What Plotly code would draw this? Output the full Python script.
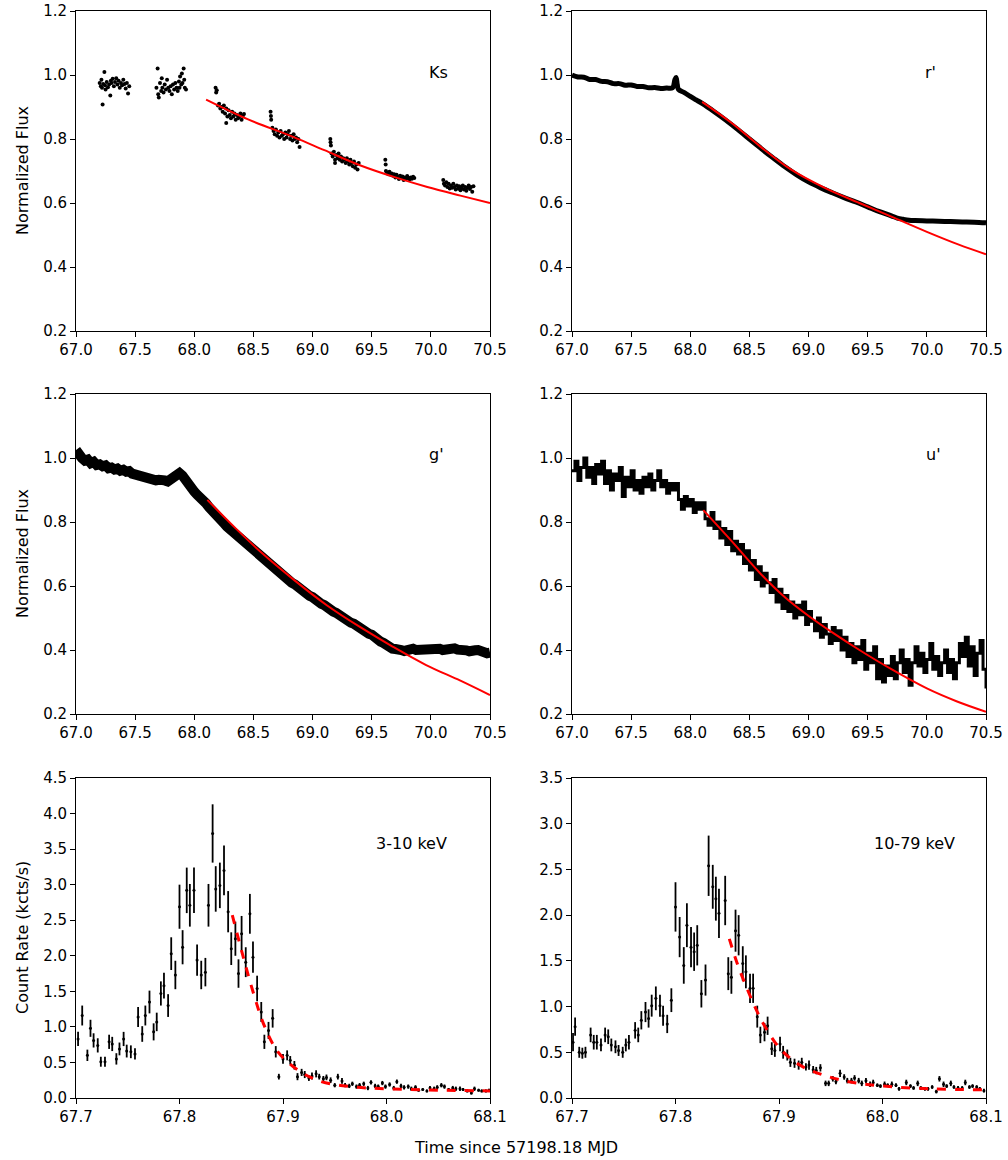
import plotly.graph_objects as go
from plotly.subplots import make_subplots

# ----- Ks band: scattered photometry in seven visits -----
ks_time = [67.20, 67.21, 67.215, 67.22, 67.225, 67.23, 67.24, 67.245, 67.25, 67.26, 67.27, 67.28, 67.29, 67.295, 67.30,
           67.31, 67.32, 67.33, 67.34, 67.35, 67.36, 67.37, 67.38, 67.39, 67.40, 67.41, 67.42, 67.43, 67.44, 67.45,
           67.68, 67.69, 67.695, 67.70, 67.71, 67.72, 67.725, 67.73, 67.74, 67.75, 67.76, 67.77, 67.78, 67.79, 67.80,
           67.81, 67.82, 67.83, 67.84, 67.85, 67.86, 67.87, 67.875, 67.88, 67.89, 67.895, 67.90, 67.91, 67.915, 67.92, 67.93,
           68.18, 68.185, 68.19, 68.20, 68.21, 68.22, 68.23, 68.24, 68.25, 68.26, 68.27, 68.28, 68.29, 68.30, 68.31,
           68.32, 68.33, 68.34, 68.35, 68.36, 68.37, 68.38, 68.39, 68.40, 68.41, 68.42, 68.27,
           68.645, 68.648, 68.65, 68.66, 68.67, 68.68, 68.69, 68.70, 68.71, 68.72, 68.73, 68.74, 68.75, 68.76, 68.77,
           68.78, 68.79, 68.80, 68.81, 68.82, 68.83, 68.84, 68.85, 68.86, 68.87, 68.88, 68.89,
           69.15, 69.152, 69.155, 69.16, 69.17, 69.18, 69.19, 69.20, 69.21, 69.22, 69.23, 69.24, 69.25, 69.26, 69.27,
           69.28, 69.29, 69.30, 69.31, 69.32, 69.33, 69.34, 69.35, 69.36, 69.37, 69.38, 69.39, 69.19,
           69.615, 69.618, 69.62, 69.63, 69.64, 69.65, 69.66, 69.67, 69.68, 69.69, 69.70, 69.71, 69.72, 69.73, 69.74,
           69.75, 69.76, 69.77, 69.78, 69.79, 69.80, 69.81, 69.82, 69.83, 69.84, 69.85, 69.86,
           70.105, 70.11, 70.12, 70.13, 70.14, 70.15, 70.16, 70.17, 70.18, 70.19, 70.20, 70.21, 70.22, 70.23, 70.24,
           70.25, 70.26, 70.27, 70.28, 70.29, 70.30, 70.31, 70.32, 70.33, 70.34, 70.35, 70.36]
ks_flux = [0.975, 0.965, 0.985, 0.960, 0.908, 0.972, 1.009, 0.968, 0.955, 0.978, 0.962, 0.970, 0.936, 0.982, 0.975,
           0.988, 0.965, 0.978, 0.990, 0.970, 0.982, 0.960, 0.975, 0.968, 0.985, 0.972, 0.958, 0.975, 0.942, 0.965,
           0.960, 1.020, 0.940, 0.930, 0.975, 0.950, 0.990, 0.960, 0.945, 0.970, 0.955, 0.985, 0.960, 0.950, 0.965,
           0.940, 0.970, 0.955, 0.975, 0.960, 0.950, 0.980, 0.960, 0.995, 0.970, 1.005, 0.975, 1.020, 0.985, 0.960, 0.955,
           0.960, 0.945, 0.952, 0.905, 0.910, 0.895, 0.900, 0.885, 0.905, 0.880, 0.895, 0.870, 0.890, 0.875, 0.865,
           0.885, 0.870, 0.880, 0.860, 0.875, 0.865, 0.870, 0.880, 0.860, 0.872, 0.878, 0.850,
           0.885, 0.872, 0.860, 0.835, 0.825, 0.815, 0.830, 0.810, 0.820, 0.805, 0.825, 0.810, 0.815, 0.800, 0.820,
           0.805, 0.815, 0.825, 0.800, 0.810, 0.795, 0.815, 0.800, 0.805, 0.790, 0.800, 0.775,
           0.800, 0.790, 0.780, 0.755, 0.745, 0.760, 0.735, 0.750, 0.740, 0.755, 0.735, 0.745, 0.730, 0.740, 0.735,
           0.725, 0.740, 0.730, 0.720, 0.735, 0.725, 0.715, 0.730, 0.710, 0.720, 0.705, 0.725, 0.725,
           0.735, 0.720, 0.700, 0.695, 0.690, 0.698, 0.688, 0.692, 0.685, 0.690, 0.680, 0.688, 0.682, 0.675, 0.685,
           0.678, 0.683, 0.672, 0.680, 0.676, 0.684, 0.678, 0.674, 0.680, 0.676, 0.682, 0.678,
           0.672, 0.660, 0.655, 0.665, 0.650, 0.660, 0.645, 0.655, 0.648, 0.660, 0.650, 0.642, 0.655, 0.645, 0.652,
           0.640, 0.648, 0.655, 0.642, 0.650, 0.638, 0.648, 0.655, 0.644, 0.650, 0.635, 0.652]
ks_fit_time = [68.10, 68.45, 68.84, 69.10, 69.40, 69.70, 69.97, 70.25, 70.50]
ks_fit_flux = [0.923, 0.862, 0.806, 0.765, 0.718, 0.680, 0.650, 0.623, 0.600]

# ----- r' band -----
r_time = [67.00, 67.05, 67.10, 67.15, 67.20, 67.25, 67.30, 67.35, 67.40, 67.45, 67.50, 67.55, 67.60, 67.65,
          67.70, 67.75, 67.80, 67.85, 67.87, 67.88, 67.89, 67.90, 67.95, 68.00, 68.05, 68.10, 68.20, 68.30,
          68.40, 68.50, 68.60, 68.70, 68.80, 68.90, 69.00, 69.10, 69.20, 69.30, 69.40, 69.50, 69.60, 69.70,
          69.75, 69.80, 69.85, 69.90, 70.00, 70.10, 70.20, 70.30, 70.40, 70.50]
r_flux = [1.000, 0.994, 0.993, 0.986, 0.986, 0.980, 0.979, 0.973, 0.973, 0.968, 0.969, 0.964, 0.964, 0.960,
          0.961, 0.958, 0.959, 0.960, 0.985, 0.992, 0.970, 0.955, 0.945, 0.933, 0.922, 0.911, 0.886, 0.859,
          0.830, 0.800, 0.770, 0.741, 0.713, 0.688, 0.666, 0.648, 0.632, 0.617, 0.603, 0.588, 0.573, 0.560,
          0.553, 0.549, 0.546, 0.545, 0.544, 0.543, 0.542, 0.541, 0.540, 0.538]
r_fit_time = [68.10, 68.35, 68.58, 68.85, 69.15, 69.45, 69.71, 70.00, 70.27, 70.50]
r_fit_flux = [0.916, 0.850, 0.780, 0.705, 0.645, 0.597, 0.556, 0.510, 0.470, 0.440]

# ----- g' band -----
g_time = [67.000, 67.025, 67.050, 67.075, 67.100, 67.125, 67.150, 67.175, 67.200, 67.225,
          67.250, 67.275, 67.300, 67.325, 67.350, 67.375, 67.400, 67.425, 67.450, 67.475,
          67.500, 67.525, 67.550, 67.575, 67.600, 67.625, 67.650, 67.675, 67.700, 67.725,
          67.750, 67.775, 67.800, 67.825, 67.850, 67.875, 67.900, 67.925, 67.950, 67.975,
          68.000, 68.025, 68.050, 68.075, 68.100, 68.125, 68.150, 68.175, 68.200, 68.225,
          68.250, 68.275, 68.300, 68.325, 68.350, 68.375, 68.400, 68.425, 68.450, 68.475,
          68.500, 68.525, 68.550, 68.575, 68.600, 68.625, 68.650, 68.675, 68.700, 68.725,
          68.750, 68.775, 68.800, 68.825, 68.850, 68.875, 68.900, 68.925, 68.950, 68.975,
          69.000, 69.025, 69.050, 69.075, 69.100, 69.125, 69.150, 69.175, 69.200, 69.225,
          69.250, 69.275, 69.300, 69.325, 69.350, 69.375, 69.400, 69.425, 69.450, 69.475,
          69.500, 69.525, 69.550, 69.575, 69.600, 69.625, 69.650, 69.675, 69.700, 69.725,
          69.750, 69.775, 69.800, 69.825, 69.850, 69.875, 69.900, 69.925, 69.950, 69.975,
          70.000, 70.025, 70.050, 70.075, 70.100, 70.125, 70.150, 70.175, 70.200, 70.225,
          70.250, 70.275, 70.300, 70.325, 70.350, 70.375, 70.400, 70.425, 70.450, 70.475,
          70.500]
g_flux = [1.025, 1.005, 1.000, 0.992, 0.995, 0.984, 0.988, 0.978, 0.980, 0.974,
          0.977, 0.968, 0.970, 0.964, 0.967, 0.960, 0.963, 0.957, 0.959, 0.951,
          0.948, 0.944, 0.946, 0.939, 0.940, 0.934, 0.936, 0.930, 0.932, 0.927,
          0.930, 0.927, 0.933, 0.940, 0.948, 0.953, 0.945, 0.930, 0.918, 0.905,
          0.895, 0.885, 0.878, 0.866, 0.858, 0.846, 0.838, 0.826, 0.817, 0.805,
          0.797, 0.786, 0.778, 0.766, 0.759, 0.748, 0.742, 0.730, 0.725, 0.714,
          0.708, 0.698, 0.692, 0.682, 0.678, 0.668, 0.662, 0.652, 0.648, 0.638,
          0.632, 0.624, 0.618, 0.610, 0.605, 0.596, 0.592, 0.582, 0.578, 0.569,
          0.565, 0.556, 0.552, 0.544, 0.540, 0.531, 0.528, 0.520, 0.516, 0.508,
          0.505, 0.497, 0.494, 0.485, 0.482, 0.474, 0.472, 0.462, 0.460, 0.451,
          0.448, 0.438, 0.435, 0.426, 0.422, 0.414, 0.412, 0.404, 0.403, 0.398,
          0.400, 0.397, 0.401, 0.399, 0.404, 0.400, 0.401, 0.398, 0.403, 0.401,
          0.404, 0.399, 0.400, 0.404, 0.400, 0.402, 0.398, 0.402, 0.405, 0.401,
          0.402, 0.398, 0.399, 0.396, 0.402, 0.399, 0.400, 0.395, 0.396, 0.390,
          0.392]
g_fit_time = [68.11, 68.35, 68.56, 68.84, 69.12, 69.40, 69.68, 69.96, 70.25, 70.50]
g_fit_flux = [0.869, 0.780, 0.707, 0.620, 0.540, 0.472, 0.410, 0.353, 0.304, 0.259]

# ----- u' band -----
u_time = [67.000, 67.025, 67.050, 67.075, 67.100, 67.125, 67.150, 67.175, 67.200, 67.225,
          67.250, 67.275, 67.300, 67.325, 67.350, 67.375, 67.400, 67.425, 67.450, 67.475,
          67.500, 67.525, 67.550, 67.575, 67.600, 67.625, 67.650, 67.675, 67.700, 67.725,
          67.750, 67.775, 67.800, 67.825, 67.850, 67.875, 67.900, 67.925, 67.950, 67.975,
          68.000, 68.025, 68.050, 68.075, 68.100, 68.125, 68.150, 68.175, 68.200, 68.225,
          68.250, 68.275, 68.300, 68.325, 68.350, 68.375, 68.400, 68.425, 68.450, 68.475,
          68.500, 68.525, 68.550, 68.575, 68.600, 68.625, 68.650, 68.675, 68.700, 68.725,
          68.750, 68.775, 68.800, 68.825, 68.850, 68.875, 68.900, 68.925, 68.950, 68.975,
          69.000, 69.025, 69.050, 69.075, 69.100, 69.125, 69.150, 69.175, 69.200, 69.225,
          69.250, 69.275, 69.300, 69.325, 69.350, 69.375, 69.400, 69.425, 69.450, 69.475,
          69.500, 69.525, 69.550, 69.575, 69.600, 69.625, 69.650, 69.675, 69.700, 69.725,
          69.750, 69.775, 69.800, 69.825, 69.850, 69.875, 69.900, 69.925, 69.950, 69.975,
          70.000, 70.025, 70.050, 70.075, 70.100, 70.125, 70.150, 70.175, 70.200, 70.225,
          70.250, 70.275, 70.300, 70.325, 70.350, 70.375, 70.400, 70.425, 70.450, 70.475,
          70.500]
u_flux = [0.96, 0.99, 0.93, 0.97, 1.00, 0.94, 0.97, 0.92, 0.98, 0.95,
          0.99, 0.92, 0.96, 0.90, 0.95, 0.93, 0.97, 0.88, 0.94, 0.91,
          0.96, 0.90, 0.93, 0.89, 0.94, 0.91, 0.95, 0.90, 0.93, 0.96,
          0.91, 0.93, 0.89, 0.92, 0.90, 0.92, 0.87, 0.84, 0.88, 0.85,
          0.87, 0.83, 0.86, 0.84, 0.86, 0.81, 0.79, 0.83, 0.78, 0.80,
          0.75, 0.78, 0.73, 0.77, 0.71, 0.74, 0.70, 0.73, 0.67, 0.71,
          0.65, 0.68, 0.62, 0.66, 0.60, 0.64, 0.61, 0.58, 0.62, 0.55,
          0.59, 0.53, 0.57, 0.52, 0.55, 0.50, 0.54, 0.51, 0.55, 0.48,
          0.52, 0.49, 0.46, 0.50, 0.44, 0.48, 0.45, 0.42, 0.47, 0.43,
          0.46, 0.40, 0.44, 0.38, 0.42, 0.36, 0.41, 0.37, 0.43, 0.34,
          0.39, 0.36, 0.41, 0.31, 0.37, 0.30, 0.35, 0.32, 0.38, 0.31,
          0.36, 0.40, 0.33, 0.37, 0.29, 0.36, 0.41, 0.35, 0.39, 0.33,
          0.37, 0.42, 0.34, 0.38, 0.32, 0.36, 0.40, 0.33, 0.37, 0.31,
          0.36, 0.42, 0.38, 0.44, 0.35, 0.41, 0.32, 0.39, 0.43, 0.34,
          0.28]
u_fit_time = [68.11, 68.35, 68.59, 68.80, 69.01, 69.20, 69.43, 69.70, 70.00, 70.25, 70.50]
u_fit_flux = [0.837, 0.740, 0.640, 0.565, 0.504, 0.455, 0.400, 0.340, 0.280, 0.240, 0.207]

# ----- NuSTAR 3-10 keV -----
soft_time = [67.702, 67.706, 67.711, 67.714, 67.717, 67.721, 67.724, 67.728, 67.732, 67.735,
             67.739, 67.742, 67.746, 67.749, 67.753, 67.757, 67.760, 67.764, 67.767, 67.771,
             67.775, 67.778, 67.782, 67.785, 67.789, 67.792, 67.796, 67.800, 67.803, 67.807,
             67.810, 67.814, 67.817, 67.821, 67.825, 67.828, 67.832, 67.835, 67.839, 67.843,
             67.847, 67.850, 67.854, 67.857, 67.860, 67.864, 67.868, 67.871, 67.875, 67.879,
             67.882, 67.886, 67.890, 67.893, 67.896, 67.900, 67.904, 67.907, 67.911,
             67.914, 67.918, 67.921, 67.925, 67.928, 67.932, 67.935, 67.939, 67.942, 67.946,
             67.950, 67.953, 67.957, 67.960, 67.964, 67.967, 67.971, 67.974, 67.978, 67.982,
             67.985, 67.989, 67.992, 67.996, 67.999, 68.003, 68.007, 68.010, 68.014, 68.017,
             68.021, 68.024, 68.028, 68.031, 68.035, 68.039, 68.042, 68.046, 68.049, 68.053,
             68.056, 68.060, 68.064, 68.067, 68.071, 68.074, 68.078, 68.082, 68.085, 68.089,
             68.092, 68.096, 68.099]
soft_rate = [0.83, 1.16, 0.60, 0.98, 0.81, 0.74, 0.51, 0.51, 0.79, 0.76,
             0.55, 0.69, 0.83, 0.66, 0.65, 0.62, 1.14, 0.90, 1.16, 1.35,
             0.93, 1.07, 1.47, 1.58, 1.30, 2.03, 1.73, 2.69, 2.12, 2.92,
             2.71, 2.92, 1.94, 1.73, 1.77, 2.71, 3.72, 2.94, 2.99, 3.20,
             2.62, 2.10, 2.24, 1.75, 2.31, 1.91, 2.59, 1.98, 1.54, 1.21,
             0.79, 0.95, 1.12, 0.65, 0.30, 0.55, 0.60, 0.53, 0.46,
             0.30, 0.36, 0.33, 0.28, 0.31, 0.34, 0.30, 0.27, 0.29, 0.25,
             0.18, 0.30, 0.24, 0.18, 0.17, 0.20, 0.16, 0.18, 0.20, 0.14,
             0.22, 0.17, 0.16, 0.21, 0.16, 0.19, 0.14, 0.23, 0.17, 0.15,
             0.16, 0.13, 0.15, 0.11, 0.12, 0.10, 0.14, 0.13, 0.15, 0.18,
             0.16, 0.12, 0.14, 0.13, 0.13, 0.12, 0.10, 0.07, 0.13, 0.11,
             0.10, 0.10, 0.11]
soft_err = [0.10, 0.14, 0.08, 0.12, 0.10, 0.10, 0.07, 0.07, 0.10, 0.10,
            0.08, 0.09, 0.10, 0.09, 0.09, 0.08, 0.14, 0.11, 0.14, 0.16,
            0.12, 0.13, 0.17, 0.18, 0.16, 0.23, 0.20, 0.31, 0.24, 0.32,
            0.30, 0.32, 0.22, 0.20, 0.20, 0.30, 0.41, 0.32, 0.32, 0.35,
            0.29, 0.23, 0.24, 0.20, 0.25, 0.21, 0.28, 0.22, 0.18, 0.14,
            0.10, 0.12, 0.13, 0.08, 0.04, 0.07, 0.07, 0.06, 0.06,
            0.05, 0.05, 0.05, 0.04, 0.05, 0.05, 0.04, 0.04, 0.04, 0.04,
            0.03, 0.04, 0.04, 0.03, 0.03, 0.03, 0.03, 0.03, 0.03, 0.03,
            0.03, 0.03, 0.03, 0.03, 0.03, 0.03, 0.03, 0.03, 0.03, 0.03,
            0.03, 0.03, 0.03, 0.02, 0.02, 0.02, 0.03, 0.03, 0.03, 0.03,
            0.03, 0.02, 0.03, 0.03, 0.03, 0.02, 0.02, 0.02, 0.03, 0.02,
            0.02, 0.02, 0.02]
soft_fit_time = [67.851, 67.858, 67.865, 67.873, 67.881, 67.894, 67.910, 67.933, 67.965, 68.000, 68.050, 68.100]
soft_fit_rate = [2.57, 2.18, 1.80, 1.40, 1.05, 0.67, 0.44, 0.25, 0.16, 0.13, 0.11, 0.10]

# ----- NuSTAR 10-79 keV -----
hard_time = [67.701, 67.703, 67.707, 67.710, 67.713, 67.718, 67.721, 67.724, 67.728, 67.732,
             67.735, 67.738, 67.742, 67.745, 67.749, 67.752, 67.755, 67.761, 67.764, 67.767,
             67.771, 67.774, 67.777, 67.781, 67.785, 67.788, 67.792, 67.796, 67.800, 67.804,
             67.808, 67.811, 67.815, 67.818, 67.821, 67.825, 67.829, 67.832, 67.836, 67.839,
             67.842, 67.848, 67.851, 67.854, 67.858, 67.861, 67.865, 67.868, 67.872, 67.875,
             67.879, 67.882, 67.886, 67.889, 67.893, 67.896, 67.901, 67.904, 67.908, 67.911,
             67.915, 67.919, 67.922, 67.926, 67.929, 67.933, 67.936, 67.940, 67.945, 67.948,
             67.952, 67.955, 67.959, 67.963, 67.966, 67.970, 67.973, 67.977, 67.980, 67.984,
             67.988, 67.991, 67.995, 67.998, 68.002, 68.005, 68.009, 68.013, 68.016, 68.023,
             68.027, 68.030, 68.034, 68.037, 68.041, 68.044, 68.048, 68.052, 68.055, 68.059,
             68.062, 68.066, 68.069, 68.073, 68.077, 68.080, 68.084, 68.087, 68.091, 68.094,
             68.098]
hard_rate = [0.61, 0.78, 0.50, 0.49, 0.50, 0.69, 0.61, 0.61, 0.58, 0.69,
             0.67, 0.58, 0.56, 0.52, 0.50, 0.58, 0.61, 0.74, 0.69, 0.85,
             0.94, 0.87, 1.01, 1.09, 1.01, 0.90, 0.81, 1.07, 2.09, 1.76,
             1.45, 1.89, 1.65, 1.60, 1.67, 1.14, 1.29, 2.54, 2.31, 2.18,
             2.02, 2.16, 1.36, 1.32, 1.83, 1.78, 1.47, 1.38, 1.20, 1.20,
             0.89, 0.69, 0.72, 0.79, 0.54, 0.52, 0.59, 0.50, 0.47, 0.39,
             0.38, 0.36, 0.39, 0.34, 0.36, 0.31, 0.30, 0.33, 0.16, 0.16,
             0.21, 0.18, 0.27, 0.23, 0.19, 0.19, 0.22, 0.19, 0.16, 0.19,
             0.15, 0.17, 0.14, 0.13, 0.15, 0.14, 0.15, 0.14, 0.10, 0.17,
             0.13, 0.11, 0.16, 0.11, 0.10, 0.10, 0.12, 0.07, 0.21, 0.15,
             0.13, 0.16, 0.12, 0.11, 0.11, 0.17, 0.12, 0.13, 0.12, 0.10,
             0.08]
hard_err = [0.10, 0.10, 0.06, 0.06, 0.06, 0.08, 0.08, 0.08, 0.07, 0.08,
            0.08, 0.07, 0.07, 0.06, 0.06, 0.07, 0.08, 0.09, 0.08, 0.10,
            0.11, 0.10, 0.12, 0.13, 0.12, 0.11, 0.10, 0.13, 0.27, 0.22,
            0.20, 0.24, 0.22, 0.21, 0.22, 0.15, 0.17, 0.33, 0.24, 0.24,
            0.27, 0.27, 0.18, 0.18, 0.23, 0.22, 0.19, 0.18, 0.16, 0.16,
            0.12, 0.09, 0.10, 0.10, 0.07, 0.07, 0.08, 0.07, 0.06, 0.05,
            0.05, 0.05, 0.05, 0.04, 0.05, 0.04, 0.04, 0.04, 0.03, 0.03,
            0.03, 0.03, 0.04, 0.03, 0.03, 0.03, 0.03, 0.03, 0.03, 0.03,
            0.03, 0.03, 0.02, 0.02, 0.03, 0.02, 0.03, 0.02, 0.02, 0.03,
            0.02, 0.02, 0.03, 0.02, 0.02, 0.02, 0.02, 0.02, 0.03, 0.03,
            0.02, 0.03, 0.02, 0.02, 0.02, 0.03, 0.02, 0.02, 0.02, 0.02,
            0.02]
hard_fit_time = [67.852, 67.860, 67.869, 67.877, 67.885, 67.901, 67.920, 67.943, 67.969, 68.001, 68.049, 68.100]
hard_fit_rate = [1.74, 1.46, 1.20, 0.99, 0.81, 0.54, 0.36, 0.25, 0.175, 0.13, 0.10, 0.09]

FONT = "DejaVu Sans"
RED = "#ff0000"

fig = make_subplots(rows=3, cols=2)

# --- optical / IR panels
fig.add_trace(go.Scatter(x=ks_time, y=ks_flux, mode="markers",
                         marker=dict(color="black", size=4)), row=1, col=1)
fig.add_trace(go.Scatter(x=ks_fit_time, y=ks_fit_flux, mode="lines", line_shape="spline",
                         line=dict(color=RED, width=2)), row=1, col=1)

fig.add_trace(go.Scatter(x=r_time, y=r_flux, mode="lines", line_shape="spline",
                         line=dict(color="black", width=5)), row=1, col=2)
fig.add_trace(go.Scatter(x=r_fit_time, y=r_fit_flux, mode="lines", line_shape="spline",
                         line=dict(color=RED, width=2)), row=1, col=2)

fig.add_trace(go.Scatter(x=g_time, y=g_flux, mode="lines",
                         line=dict(color="black", width=10)), row=2, col=1)
fig.add_trace(go.Scatter(x=g_fit_time, y=g_fit_flux, mode="lines", line_shape="spline",
                         line=dict(color=RED, width=2)), row=2, col=1)

fig.add_trace(go.Scatter(x=u_time, y=u_flux, mode="lines", line_shape="hv",
                         line=dict(color="black", width=3)), row=2, col=2)
fig.add_trace(go.Scatter(x=u_fit_time, y=u_fit_flux, mode="lines", line_shape="spline",
                         line=dict(color=RED, width=2)), row=2, col=2)

# --- X-ray panels
fig.add_trace(go.Scatter(x=soft_time, y=soft_rate, mode="markers",
                         marker=dict(color="black", size=3),
                         error_y=dict(type="data", array=soft_err, color="black", thickness=1.8, width=0)),
              row=3, col=1)
fig.add_trace(go.Scatter(x=soft_fit_time, y=soft_fit_rate, mode="lines", line_shape="spline",
                         line=dict(color=RED, width=3, dash="dash")), row=3, col=1)

fig.add_trace(go.Scatter(x=hard_time, y=hard_rate, mode="markers",
                         marker=dict(color="black", size=3),
                         error_y=dict(type="data", array=hard_err, color="black", thickness=1.8, width=0)),
              row=3, col=2)
fig.add_trace(go.Scatter(x=hard_fit_time, y=hard_fit_rate, mode="lines", line_shape="spline",
                         line=dict(color=RED, width=3, dash="dash")), row=3, col=2)

# --- axis geometry, matched to the reference pixel positions
xdom = [[76 / 1008, 490 / 1008], [572 / 1008, 986 / 1008]]
ydom = [[1 - 331 / 1160, 1 - 11 / 1160], [1 - 714 / 1160, 1 - 394 / 1160], [1 - 1098 / 1160, 1 - 778 / 1160]]

axis_style = dict(showline=True, mirror=True, linecolor="black", linewidth=1, ticks="outside",
                  ticklen=5, tickwidth=1, tickcolor="black", showgrid=False, zeroline=False,
                  automargin=False,
                  tickfont=dict(family=FONT, size=15, color="black"), tickformat=".1f")

for r in range(1, 4):
    for c in range(1, 3):
        fig.update_xaxes(domain=xdom[c - 1], row=r, col=c, **axis_style)
        fig.update_yaxes(domain=ydom[r - 1], row=r, col=c, **axis_style)
        if r < 3:
            fig.update_xaxes(range=[67.0, 70.5], dtick=0.5, tick0=67.0, row=r, col=c)
            fig.update_yaxes(range=[0.2, 1.2], dtick=0.2, tick0=0.2, row=r, col=c)
        else:
            fig.update_xaxes(range=[67.7, 68.1], dtick=0.1, tick0=67.7, row=r, col=c)

fig.update_yaxes(range=[0, 4.5], dtick=0.5, tick0=0, row=3, col=1)
fig.update_yaxes(range=[0, 3.5], dtick=0.5, tick0=0, row=3, col=2)

# --- labels
labels = [("Ks", 438, 72), ("r'", 930, 72), ("g'", 436, 455), ("u'", 933, 455),
          ("3-10 keV", 411, 843), ("10-79 keV", 914, 843)]
annots = []
for txt, px, py in labels:
    annots.append(dict(text=txt, x=px / 1008, y=1 - py / 1160, xref="paper", yref="paper",
                       showarrow=False, xanchor="center", yanchor="middle",
                       font=dict(family=FONT, size=16, color="black")))

for txt, py in [("Normalized Flux", 171), ("Normalized Flux", 554), ("Count Rate (kcts/s)", 938)]:
    annots.append(dict(text=txt, x=22 / 1008, y=1 - py / 1160, xref="paper", yref="paper",
                       showarrow=False, textangle=-90, xanchor="center", yanchor="middle",
                       font=dict(family=FONT, size=16, color="black")))

annots.append(dict(text="Time since 57198.18 MJD", x=516 / 1008, y=1 - 1147 / 1160,
                   xref="paper", yref="paper", showarrow=False, xanchor="center", yanchor="middle",
                   font=dict(family=FONT, size=16, color="black")))

fig.update_layout(width=1008, height=1160, margin=dict(l=0, r=0, t=0, b=0),
                  paper_bgcolor="white", plot_bgcolor="white", showlegend=False,
                  hovermode=False, annotations=annots)

# the page body has an 8px default margin; drop it so the figure fills the window
fig.write_html("out.html", config={"displayModeBar": False},
               post_script="document.body.style.margin='0';")
